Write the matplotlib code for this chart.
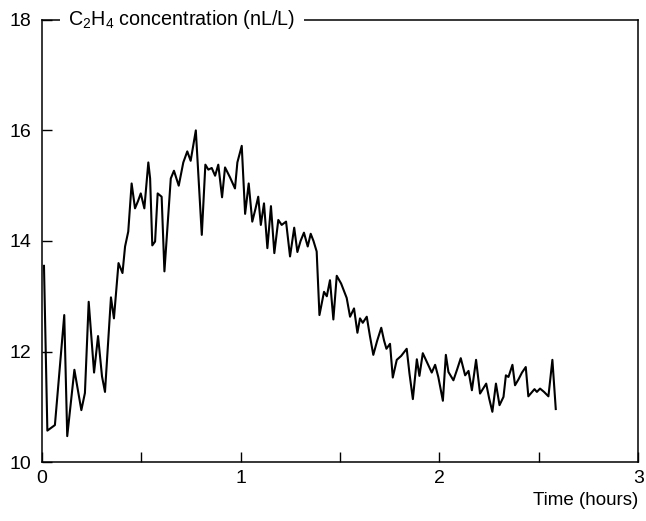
import matplotlib
matplotlib.use("Agg")
import matplotlib.pyplot as plt
from matplotlib.ticker import MultipleLocator

plt.rcParams['font.family'] = ['Liberation Sans', 'DejaVu Sans']
plt.rcParams['mathtext.fontset'] = 'custom'
plt.rcParams['mathtext.rm'] = 'Liberation Sans'
plt.rcParams['mathtext.it'] = 'Liberation Sans'

# time in hours
time_h = [0.010, 0.027, 0.065, 0.112, 0.127, 0.163, 0.198, 0.216, 0.235, 0.262,
          0.282, 0.302, 0.317, 0.347, 0.362, 0.385, 0.405, 0.418, 0.434, 0.451,
          0.468, 0.483, 0.497, 0.515, 0.535, 0.544, 0.555, 0.569, 0.582, 0.602,
          0.616, 0.632, 0.648, 0.664, 0.688, 0.711, 0.731, 0.748, 0.774, 0.804,
          0.822, 0.837, 0.854, 0.871, 0.887, 0.906, 0.921, 0.946, 0.971, 0.983,
          1.005, 1.022, 1.040, 1.058, 1.074, 1.088, 1.101, 1.117, 1.134, 1.152,
          1.169, 1.189, 1.206, 1.228, 1.248, 1.269, 1.285, 1.301, 1.318, 1.337,
          1.352, 1.366, 1.382, 1.396, 1.419, 1.433, 1.449, 1.466, 1.483, 1.505,
          1.533, 1.550, 1.570, 1.587, 1.600, 1.614, 1.634, 1.650, 1.667, 1.686,
          1.707, 1.721, 1.733, 1.751, 1.765, 1.785, 1.807, 1.835, 1.849, 1.866,
          1.886, 1.899, 1.916, 1.938, 1.961, 1.978, 1.994, 2.017, 2.032, 2.045,
          2.070, 2.089, 2.107, 2.129, 2.146, 2.163, 2.184, 2.204, 2.235, 2.250,
          2.266, 2.284, 2.302, 2.322, 2.334, 2.347, 2.367, 2.380, 2.398, 2.415,
          2.434, 2.447, 2.478, 2.490, 2.506, 2.526, 2.548, 2.568, 2.585]

# C2H4 concentration, nL/L
c2h4 = [13.55, 10.57, 10.67, 12.66, 10.47, 11.67, 10.94, 11.25, 12.90, 11.62,
        12.28, 11.55, 11.27, 12.98, 12.60, 13.60, 13.42, 13.90, 14.17, 15.04,
        14.59, 14.72, 14.86, 14.59, 15.42, 15.13, 13.92, 13.99, 14.86, 14.80,
        13.45, 14.30, 15.13, 15.27, 15.00, 15.42, 15.62, 15.45, 16.00, 14.11,
        15.38, 15.29, 15.32, 15.18, 15.38, 14.79, 15.33, 15.15, 14.95, 15.42,
        15.72, 14.49, 15.04, 14.35, 14.58, 14.80, 14.29, 14.68, 13.87, 14.63,
        13.78, 14.38, 14.29, 14.35, 13.72, 14.24, 13.80, 14.00, 14.15, 13.90,
        14.13, 14.00, 13.81, 12.66, 13.08, 13.00, 13.29, 12.58, 13.37, 13.23,
        12.97, 12.63, 12.78, 12.34, 12.60, 12.52, 12.63, 12.28, 11.94, 12.19,
        12.43, 12.20, 12.05, 12.14, 11.53, 11.85, 11.92, 12.05, 11.60, 11.14,
        11.86, 11.56, 11.97, 11.80, 11.62, 11.76, 11.54, 11.11, 11.94, 11.63,
        11.48, 11.68, 11.88, 11.57, 11.65, 11.30, 11.85, 11.24, 11.42, 11.15,
        10.91, 11.42, 11.03, 11.18, 11.57, 11.54, 11.76, 11.39, 11.50, 11.62,
        11.72, 11.19, 11.32, 11.27, 11.33, 11.27, 11.19, 11.85, 10.96]

fig = plt.figure(figsize=(6.46, 5.21), dpi=100)
ax = fig.add_axes([0.065, 0.113, 0.923, 0.849])

ax.plot(time_h, c2h4, color='black', lw=1.5)

ax.set_xlim(0, 3)
ax.set_ylim(10, 18)
ax.xaxis.set_major_locator(MultipleLocator(1))
ax.xaxis.set_minor_locator(MultipleLocator(0.5))
ax.yaxis.set_major_locator(MultipleLocator(2))
ax.tick_params(which='both', direction='in', length=7, width=1, labelsize=14)
ax.tick_params(axis='y', pad=8)
ax.tick_params(axis='x', pad=6)
for s in ax.spines.values():
    s.set_linewidth(1.1)

ax.set_xlabel('Time (hours)', loc='right', fontsize=13.5, labelpad=3)

ax.text(0.044, 1.0, r'C$_2$H$_4$ concentration (nL/L)', transform=ax.transAxes,
        ha='left', va='center', fontsize=14.2,
        bbox=dict(facecolor='white', edgecolor='none', pad=6))

fig.savefig('out.png', dpi=100)
